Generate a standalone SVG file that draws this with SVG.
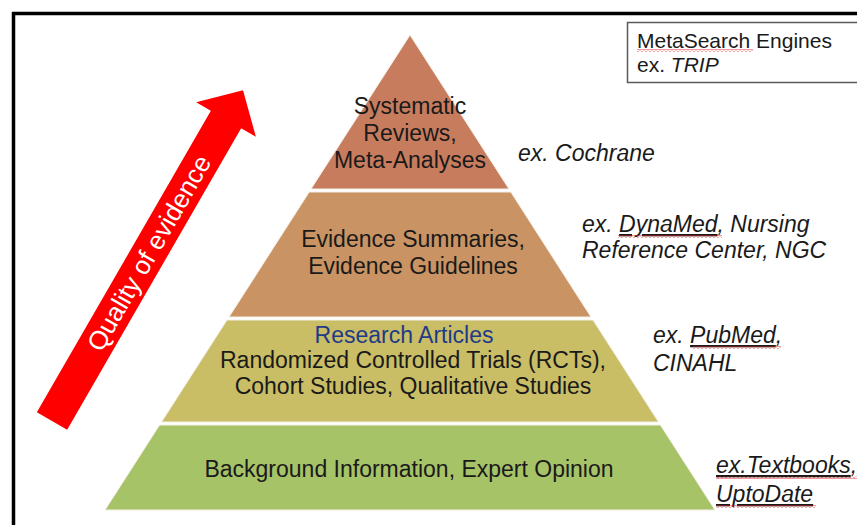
<svg xmlns="http://www.w3.org/2000/svg" width="857" height="525" viewBox="0 0 857 525">
<defs>
<pattern id="squig" x="0" y="0" width="4" height="3" patternUnits="userSpaceOnUse">
<path d="M0,2.5 L2,0.5 L4,2.5" fill="none" stroke="#e02020" stroke-width="0.9"/>
</pattern>
</defs>
<style>
text{font-family:"Liberation Sans",Arial,sans-serif;font-size:23px;fill:#1a1a1a}
.c{text-anchor:middle}
.i{font-style:italic}
.u{text-decoration:underline}
.sq{fill:url(#squig)}
.sep{stroke:#f4efe6;stroke-width:1}
</style>
<rect width="857" height="525" fill="#ffffff"/>
<g id="frame">
<line x1="12" y1="13.5" x2="857" y2="13.5" stroke="#000" stroke-width="3.5"/>
<line x1="13.5" y1="12" x2="13.5" y2="525" stroke="#000" stroke-width="3.5"/>
</g>
<g id="meta">
<rect x="627.5" y="22.5" width="240" height="60" fill="#fff" stroke="#5a5a5a" stroke-width="1.5"/>
<text x="637" y="48" style="font-size:21px">MetaSearch Engines</text>
<text x="637" y="72" style="font-size:21px">ex. <tspan class="i">TRIP</tspan></text>
<rect class="sq" x="637" y="49" width="116" height="3"/>
</g>
<g id="arrow">
<polygon transform="translate(52,421) rotate(-60)" points="0,-17.5 348,-17.5 348,-34.5 382,0 348,34.5 348,17.5 0,17.5" fill="#ff0000"/>
<text transform="translate(52,421) rotate(-60)" x="194" y="9" class="c" style="fill:#ffffff;font-size:26px">Quality of evidence</text>
</g>
<g id="tier1">
<polygon points="410,35 509,189 311,189" fill="#C87C5E" class="sep"/>
<text x="410" y="114" class="c">Systematic</text>
<text x="410" y="141" class="c">Reviews,</text>
<text x="410" y="168" class="c">Meta-Analyses</text>
</g>
<g id="tier2">
<polygon points="309.2,192 510.8,192 591,317 229,317" fill="#C99363" class="sep"/>
<text x="413" y="247" class="c">Evidence Summaries,</text>
<text x="413" y="274" class="c">Evidence Guidelines</text>
</g>
<g id="tier3">
<polygon points="227,320 593,320 658.5,422 161.5,422" fill="#C9BD66" class="sep"/>
<text x="404" y="343" class="c" style="fill:#1F3A86">Research Articles</text>
<text x="413" y="368" class="c">Randomized Controlled Trials (RCTs),</text>
<text x="413" y="394" class="c">Cohort Studies, Qualitative Studies</text>
</g>
<g id="tier4">
<polygon points="159.6,425 660.4,425 715,510 105,510" fill="#A7C368" class="sep"/>
<text x="409" y="477" class="c">Background Information, Expert Opinion</text>
</g>
<g id="examples">
<text x="518" y="161" class="i">ex. Cochrane</text>
<text x="582" y="232" class="i">ex. <tspan class="u">DynaMed</tspan>, Nursing</text>
<text x="582" y="258" class="i">Reference Center, NGC</text>
<rect class="sq" x="618" y="235" width="104" height="3"/>
<text x="653" y="343" class="i">ex. <tspan class="u">PubMed</tspan>,</text>
<text x="653" y="371" class="i">CINAHL</text>
<rect class="sq" x="693" y="346" width="88" height="3"/>
<text x="716" y="473" class="i"><tspan class="u">ex.Textbooks</tspan>,</text>
<text x="716" y="502" class="i u">UptoDate</text>
<rect class="sq" x="716" y="476" width="141" height="3"/>
<rect class="sq" x="716" y="505" width="100" height="3"/>
</g>
</svg>
